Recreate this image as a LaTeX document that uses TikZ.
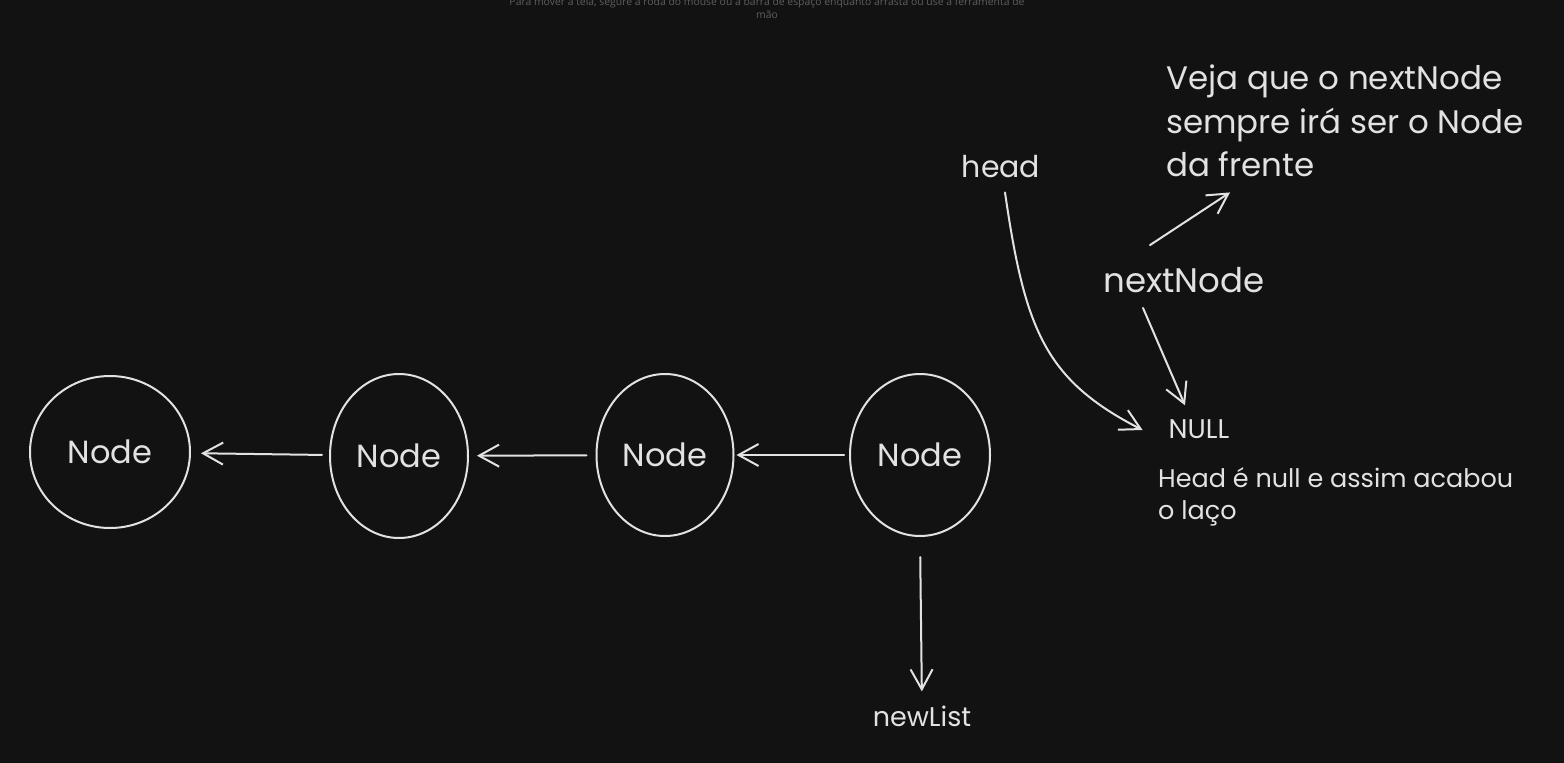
\documentclass[tikz,border=0pt]{standalone}
\usepackage{fontspec}
\setmainfont{Poppins}
\newfontfamily\hintfont{Open Sans}
\usetikzlibrary{arrows.meta,shapes.geometric,positioning}
\definecolor{bgcol}{HTML}{121212}
\definecolor{ink}{HTML}{E2E2E2}
\definecolor{hintcol}{HTML}{5E5E5E}
\tikzset{
  % list node drawn as a loose ellipse
  lnode/.style={ellipse, draw=ink, line width=2pt, text=ink, inner sep=0pt,
                font=\fontsize{32}{36}\selectfont},
  % open barb arrow, sketch style
  barrow/.style={-{Straight Barb[length=20pt,width=22pt]}, draw=ink, line width=2pt,
                 line cap=round},
  % big label
  biglbl/.style={text=ink, inner sep=0pt, font=\fontsize{32}{43.5}\selectfont, align=left},
  % small label
  smalllbl/.style={text=ink, inner sep=0pt, font=\fontsize{25.5}{32}\selectfont, align=left},
}

\begin{document}
\begin{tikzpicture}[x=1pt, y=-1pt]

  % ── canvas ──
  \fill[bgcol] (0,0) rectangle (1564,763);
  \useasboundingbox (0,0) rectangle (1564,763);
  \clip (0,0) rectangle (1564,763);

  % ── hint at the top ──
  \node[text=hintcol, font=\hintfont\fontsize{10.4}{12.5}\selectfont, align=center, inner sep=0pt]
    (hint) at (767,8) {Para mover a tela, segure a roda do mouse ou a barra de espaço enquanto arrasta ou use a ferramenta de\\mão};

  % ── the list ──
  \node[lnode, minimum width=160pt, minimum height=152pt] (n1) at (110,452) {Node};
  \node[lnode, minimum width=138pt, minimum height=164pt] (n2) at (399,456) {Node};
  \node[lnode, minimum width=137pt, minimum height=162pt] (n3) at (665,455) {Node};
  \node[lnode, minimum width=140pt, minimum height=162pt] (n4) at (920,455) {Node};

  \draw[barrow, shorten <=7pt, shorten >=10pt] (n2) -- (n1);
  \draw[barrow, shorten <=9pt, shorten >=8pt] (n3) -- (n2);
  \draw[barrow, shorten <=5pt, shorten >=2pt] (n4) -- (n3);

  \node[smalllbl, font=\fontsize{27}{32}\selectfont] (newlist) at (922,716) {newList};
  \draw[barrow, shorten <=20pt, shorten >=14pt] (n4.south) -- (newlist.north);

  % ── notes ──
  \node[biglbl, anchor=north west, font=\fontsize{32.5}{43.5}\selectfont] (note) at (1166,65)
    {Veja que o nextNode\\sempre irá ser o Node\\da frente};
  \node[smalllbl, anchor=north west] (info) at (1158,467)
    {Head é null e assim acabou\\o laço};

  % ── pointers ──
  \node[biglbl, font=\fontsize{30}{36}\selectfont] (headlbl) at (1001,167) {head};
  \node[biglbl, font=\fontsize{34}{40}\selectfont] (nextlbl) at (1184,280) {nextNode};
  \node[smalllbl, font=\fontsize{27}{32}\selectfont] (nulllbl) at (1199,429) {NULL};

  \draw[barrow] ([xshift=4pt,yshift=-14pt]headlbl.south)
    .. controls (1025,330) and (1045,380) .. ([xshift=-26pt,yshift=-1pt]nulllbl.west);
  \draw[barrow] ([xshift=-34pt,yshift=22pt]nextlbl.north) -- ([xshift=64pt,yshift=-15pt]note.south west);
  \draw[barrow] ([xshift=-41pt,yshift=-15pt]nextlbl.south) -- ([xshift=-14pt,yshift=14pt]nulllbl.north);

\end{tikzpicture}
\end{document}
